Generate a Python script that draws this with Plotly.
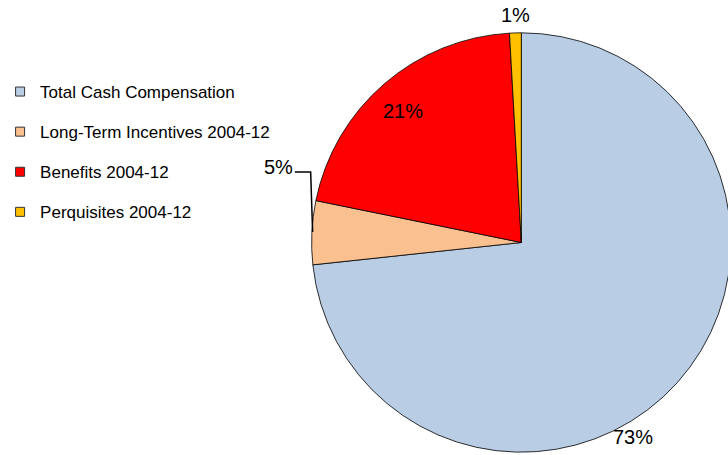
import plotly.graph_objects as go

labels = ["Total Cash Compensation", "Long-Term Incentives 2004-12",
          "Benefits 2004-12", "Perquisites 2004-12"]
values = [73.3, 4.9, 20.9, 0.9]
colors = ["#B9CDE5", "#FAC090", "#FF0000", "#FFC000"]

W, H = 731, 455
total = sum(values)
pct_text = [f"{round(v / total * 100)}%" for v in values]

fig = go.Figure()
fig.add_trace(go.Pie(
    labels=labels, values=values, sort=False, direction="clockwise", rotation=0,
    marker=dict(colors=colors, line=dict(color="#000000", width=0.8)),
    textinfo="none", showlegend=False, hoverinfo="label+percent",
    domain=dict(x=[307 / W, 1.0], y=[1 / H, 424 / H]),
))

# legend entries
for i, (lab, col) in enumerate(zip(labels, colors)):
    fig.add_trace(go.Scatter(
        x=[None], y=[None], mode="markers", name=lab, legendgroup=f"g{i}",
        marker=dict(symbol="square", size=9, color=col, line=dict(color="#333333", width=1)),
    ))

# percentage labels
label_pos = [(632, 437), (273, 167), (399, 111), (513, 15)]
for t, (px, py) in zip(pct_text, label_pos):
    fig.add_annotation(x=px / W, y=1 - py / H, xref="paper", yref="paper",
                       xanchor="center", yanchor="middle",
                       text=t, showarrow=False,
                       font=dict(family="Liberation Sans, Arial", size=20, color="#000000"))

# leader line for the 5% label
fig.add_shape(type="path", xref="paper", yref="paper",
              path=f"M {290/W},{1-172/H} L {306/W},{1-172/H} L {308/W},{1-232/H}",
              line=dict(color="#000000", width=1.5))

fig.update_layout(
    width=W, height=H,
    margin=dict(l=0, r=0, t=0, b=0),
    paper_bgcolor="white", plot_bgcolor="white",
    xaxis=dict(visible=False), yaxis=dict(visible=False),
    legend=dict(x=-8 / W, y=1 - 74 / H, xanchor="left", yanchor="top",
                tracegroupgap=15, itemwidth=30,
                font=dict(family="Liberation Sans, Arial", size=17, color="#000000"),
                bgcolor="rgba(0,0,0,0)"),
    font=dict(family="Liberation Sans, Arial"),
)

fig.write_html("out.html", config={"displayModeBar": False},
               post_script="document.body.style.margin='0';document.body.style.overflow='hidden';"
                           "document.documentElement.style.overflow='hidden';")
